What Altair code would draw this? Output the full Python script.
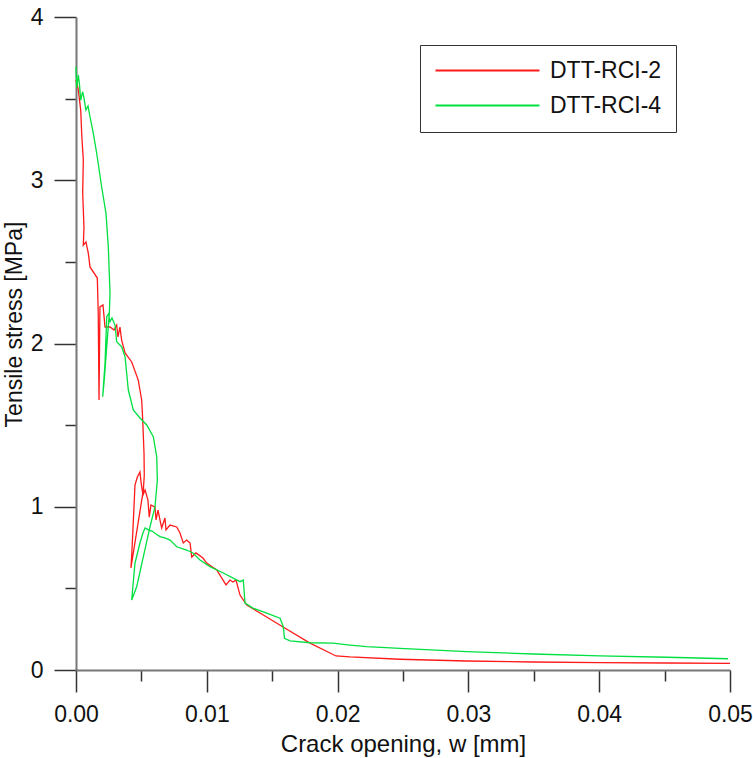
import altair as alt
import pandas as pd

# Crack opening w [mm] and tensile stress [MPa]
w_rci2 = [0.0, 0.00018, 0.00036, 0.00044, 0.00056, 0.00051, 0.00061, 0.00056, 0.00076, 0.00094,
          0.00107, 0.00163, 0.00170, 0.00176, 0.00183, 0.00206, 0.00222, 0.00260, 0.00291, 0.00311,
          0.00321, 0.00336, 0.00349, 0.00375, 0.00426, 0.00476, 0.00502, 0.00510, 0.00520, 0.00522,
          0.00515, 0.00420, 0.00428, 0.00451, 0.00469, 0.00489, 0.00497, 0.00512, 0.00528, 0.00550,
          0.00560, 0.00573, 0.00604, 0.00612, 0.00627, 0.00642, 0.00655, 0.00680, 0.00688, 0.00719,
          0.00770, 0.00795, 0.00820, 0.00846, 0.00872, 0.00885, 0.00917, 0.00971, 0.00999, 0.01076,
          0.01124, 0.01147, 0.01177, 0.01200, 0.01223, 0.01254, 0.01305, 0.01407, 0.01583, 0.01789,
          0.01988, 0.02095, 0.02477, 0.02987, 0.03494, 0.04006, 0.04516, 0.05000]
s_rci2 = [3.614, 3.553, 3.430, 3.277, 3.124, 2.922, 2.714, 2.603, 2.622, 2.554,
          2.469, 2.401, 2.187, 1.654, 2.224, 2.236, 2.101, 2.101, 2.083, 2.113,
          2.040, 2.101, 2.021, 1.942, 1.887, 1.776, 1.654, 1.531, 1.329, 1.194,
          1.103, 0.625, 0.735, 1.133, 1.182, 1.213, 1.152, 1.072, 1.103, 1.041,
          0.937, 1.011, 0.998, 0.919, 0.980, 0.919, 0.870, 0.931, 0.858, 0.888,
          0.876, 0.839, 0.778, 0.796, 0.778, 0.692, 0.717, 0.686, 0.655, 0.613,
          0.551, 0.521, 0.551, 0.539, 0.551, 0.459, 0.398, 0.349, 0.263, 0.165,
          0.086, 0.080, 0.066, 0.055, 0.049, 0.045, 0.043, 0.041]

w_rci4 = [0.0, 0.00005, 0.00018, 0.00027, 0.00036, 0.00051, 0.00061, 0.00076, 0.00092, 0.00107,
          0.00132, 0.00158, 0.00196, 0.00229, 0.00247, 0.00260, 0.00255, 0.00235, 0.00216, 0.00204,
          0.00222, 0.00235, 0.00248, 0.00260, 0.00275, 0.00298, 0.00311, 0.00349, 0.00375, 0.00400,
          0.00438, 0.00489, 0.00541, 0.00591, 0.00617, 0.00622, 0.00604, 0.00566, 0.00515, 0.00464,
          0.00426, 0.00451, 0.00489, 0.00512, 0.00528, 0.00553, 0.00581, 0.00612, 0.00642, 0.00680,
          0.00719, 0.00770, 0.00846, 0.00894, 0.00948, 0.01024, 0.01126, 0.01254, 0.01279, 0.01292,
          0.01356, 0.01458, 0.01560, 0.01585, 0.01594, 0.01636, 0.01789, 0.01965, 0.02095, 0.02222,
          0.02477, 0.02987, 0.03494, 0.04006, 0.04516, 0.04985]
s_rci4 = [3.696, 3.565, 3.645, 3.583, 3.491, 3.542, 3.504, 3.430, 3.455, 3.389,
          3.289, 3.167, 2.960, 2.799, 2.593, 2.309, 2.187, 1.980, 1.776, 1.674,
          1.881, 2.164, 2.181, 2.134, 2.156, 2.113, 2.011, 1.980, 1.919, 1.715,
          1.593, 1.544, 1.501, 1.429, 1.307, 1.164, 1.000, 0.878, 0.694, 0.510,
          0.429, 0.655, 0.778, 0.839, 0.870, 0.858, 0.851, 0.833, 0.817, 0.809,
          0.796, 0.755, 0.735, 0.717, 0.674, 0.633, 0.594, 0.541, 0.551, 0.410,
          0.378, 0.349, 0.317, 0.265, 0.194, 0.179, 0.167, 0.165, 0.153, 0.143,
          0.133, 0.112, 0.098, 0.086, 0.078, 0.069]

series_names = ["DTT-RCI-2", "DTT-RCI-4"]
series_colors = ["#ff1a1a", "#00e040"]
x_ticks = [0.0, 0.005, 0.01, 0.015, 0.02, 0.025, 0.03, 0.035, 0.04, 0.045, 0.05]
y_ticks = [0.0, 0.5, 1.0, 1.5, 2.0, 2.5, 3.0, 3.5, 4.0]

rows = []
for name, ws, ss in [(series_names[0], w_rci2, s_rci2), (series_names[1], w_rci4, s_rci4)]:
    for i, (w, s) in enumerate(zip(ws, ss)):
        rows.append({"series": name, "w": w, "s": s, "i": i})
df = pd.DataFrame(rows)

FONT = "Liberation Sans"

chart = alt.Chart(df).mark_line(strokeWidth=1.3, interpolate="linear").encode(
    x=alt.X("w:Q",
            scale=alt.Scale(domain=[0, 0.05], nice=False, zero=False),
            axis=alt.Axis(
                title="Crack opening, w [mm]",
                values=x_ticks,
                labelExpr="abs(round(datum.value*200)) % 2 == 0 ? format(datum.value, '.2f') : ''",
                tickSize={"condition": {"test": "abs(round(datum.value*200)) % 2 == 0", "value": 22}, "value": 11},
                labelPadding=11,
                labelFlush=False,
                titleY=62,
                titleBaseline="top",
            )),
    y=alt.Y("s:Q",
            scale=alt.Scale(domain=[0, 4], nice=False, zero=False),
            axis=alt.Axis(
                title="Tensile stress [MPa]",
                values=y_ticks,
                labelExpr="datum.value % 1 == 0 ? format(datum.value, 'd') : ''",
                tickSize={"condition": {"test": "datum.value % 1 == 0", "value": 22}, "value": 11},
                labelPadding=11,
                labelFlush=False,
                titleFontSize=23,
                titleAngle=-90,
                titleX=-54.5,
                titleY=307,
                titleAlign="center",
                titleBaseline="alphabetic",
            )),
    color=alt.Color("series:N",
                    scale=alt.Scale(domain=series_names, range=series_colors),
                    legend=alt.Legend(title=None, orient="none", legendX=344, legendY=28,
                                      symbolType="M-1,0H9.4", symbolSize=400, symbolStrokeWidth=2,
                                      labelFontSize=23, labelFont=FONT, labelColor="#111",
                                      padding=14, rowPadding=11, labelOffset=93,
                                      strokeColor="#333", fillColor="white")),
    order=alt.Order("i:Q"),
    detail="series:N",
).properties(
    width=654, height=653,
    autosize=alt.AutoSizeParams(type="none"),
    padding={"left": 76, "top": 17, "right": 23, "bottom": 88},
).configure_view(
    stroke=None
).configure_axis(
    grid=False,
    domainColor="#777777",
    domainWidth=2,
    tickColor="#333333",
    tickWidth=1.5,
    labelFont=FONT,
    labelFontSize=23,
    labelColor="#111111",
    titleFont=FONT,
    titleFontSize=24,
    titleFontWeight="normal",
    titleColor="#111111",
)

chart.save("out.html", embed_options={"renderer": "svg", "actions": False})
